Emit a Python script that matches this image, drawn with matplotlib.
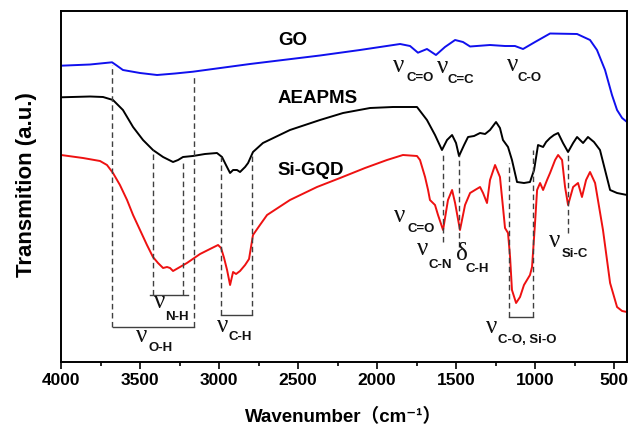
import matplotlib
matplotlib.use("Agg")
import matplotlib.pyplot as plt

# ---------------- data (transmission in arbitrary units, offset curves) ----------------
go_wn = [4000, 3816, 3677, 3652, 3608, 3500, 3392, 3278, 3165, 2804, 2361, 2108, 1854, 1791,
         1741, 1684, 1627, 1570, 1506, 1456, 1411, 1285, 1190, 1127, 1076, 1000, 905, 734,
         652, 608, 557, 513, 481, 449, 418]
go_t = [296.3, 297.5, 299.7, 297, 292, 289, 287, 288.5, 290.3, 298, 306.5, 312, 318, 316,
        309.3, 313, 307, 315, 322, 320, 315.5, 317, 316, 316, 313, 320, 328.5, 328,
        322, 312, 292, 267, 252, 244, 240]

aea_wn = [4000, 3816, 3734, 3671, 3608, 3544, 3481, 3418, 3354, 3291, 3259, 3228, 3165, 3089,
          3013, 2981, 2956, 2930, 2911, 2886, 2867, 2835, 2816, 2785, 2722, 2551, 2361, 2215,
          2044, 1899, 1747, 1684, 1633, 1589, 1557, 1525, 1500, 1481, 1449, 1424, 1386, 1348,
          1316, 1285, 1247, 1222, 1203, 1171, 1146, 1114, 1070, 1032, 1006, 981, 949, 930,
          905, 880, 854, 823, 791, 759, 734, 696, 665, 627, 589, 557, 525, 481, 418]
aea_t = [264.7, 265.5, 265, 262, 252, 235, 222, 212, 205, 200, 202, 205, 206, 208,
         209, 205, 197, 189, 192, 192, 190, 195, 199, 210, 219, 232, 242, 249,
         254, 255, 255, 242, 227, 212, 222, 227, 219, 206, 217, 225, 226, 229,
         228, 232, 240, 234, 222, 215, 202, 180, 179, 180, 192, 217, 215, 220,
         224, 227, 229, 219, 210, 219, 225, 219, 225, 220, 212, 192, 172, 169, 167]

sig_wn = [4000, 3861, 3753, 3709, 3671, 3627, 3582, 3544, 3500, 3456, 3418, 3386, 3354, 3329,
          3310, 3291, 3247, 3203, 3120, 3057, 3006, 2987, 2968, 2949, 2930, 2911, 2892, 2867,
          2835, 2810, 2785, 2741, 2696, 2551, 2380, 2234, 2076, 1937, 1836, 1747, 1728, 1696,
          1677, 1665, 1633, 1614, 1582, 1551, 1525, 1506, 1475, 1443, 1411, 1380, 1348, 1329,
          1304, 1285, 1253, 1222, 1203, 1190, 1171, 1158, 1146, 1120, 1095, 1070, 1032, 1019,
          1000, 987, 968, 949, 924, 905, 873, 854, 829, 810, 791, 759, 728, 703, 677, 652,
          620, 570, 525, 481, 449, 418]
sig_t = [207, 204, 201, 197, 189, 177, 162, 147, 132, 117, 105, 99, 94, 95,
         94, 91, 95, 99, 108, 113, 117, 114, 104, 92, 77, 90, 88, 91,
         97, 103, 127, 137, 147, 162, 175, 184, 194, 202, 207, 206, 202, 185,
         172, 162, 157, 147, 132, 162, 172, 159, 132, 157, 169, 172, 175, 169,
         159, 182, 197, 185, 155, 134, 129, 105, 72, 59, 65, 77, 87, 95,
         139, 172, 179, 172, 182, 189, 202, 207, 202, 175, 157, 175, 179, 165, 182, 190,
         179, 132, 79, 55, 51, 50]

names = ["GO", "AEAPMS", "Si-GQD"]
colors = ["#1010ee", "#000000", "#ee1111"]

# dashed guide lines: wavenumber, lower end, upper end
guide_wn = [3677, 3418, 3228, 3158, 2987, 2791, 1582, 1481, 1165, 1013, 791]
guide_lo = [35, 67, 67, 35, 47, 47, 120, 115, 45, 45, 129]
guide_hi = [297, 212, 202, 287, 205, 209, 210, 207, 199, 212, 210]

# brackets: wn start, wn end, level
br_wn0 = [3671, 3437, 2987, 1165]
br_wn1 = [3158, 3196, 2791, 1013]
br_lvl = [35, 67, 47, 45]

# band labels: greek, subscript, greek x, greek baseline, sub x, sub baseline
band_g = ["ν", "ν", "ν", "ν", "ν", "ν", "ν", "ν", "δ", "ν", "ν"]
band_s = ["C=O", "C=C", "C-O", "N-H", "O-H", "C-H", "C=O", "C-N", "C-H", "Si-C", "C-O, Si-O"]
band_gx = [1898, 1620, 1177, 3411, 3525, 3012, 1892, 1747, 1500, 911, 1310]
band_gy = [290, 289, 291, 54, 20, 30, 140, 107, 102, 115, 29]
band_sx = [1816, 1551, 1108, 3342, 3449, 2937, 1810, 1677, 1443, 829, 1234]
band_sy = [281, 279, 281, 42, 11, 22, 130, 94, 90, 105, 19]

# curve name labels
name_x = [2627, 2627, 2627]
name_y = [317, 259, 187]

xticks = [4000, 3500, 3000, 2500, 2000, 1500, 1000, 500]

# ---------------- plotting ----------------
plt.rcParams['font.family'] = ['Liberation Sans', 'DejaVu Sans']
plt.rcParams['font.weight'] = 'bold'

fig = plt.figure(figsize=(6.29, 4.30), dpi=100)
ax = fig.add_axes([61 / 629, 1 - 362 / 430, (627 - 61) / 629, 351 / 430])

for wn, t, c in zip([go_wn, aea_wn, sig_wn], [go_t, aea_t, sig_t], colors):
    ax.plot(wn, t, color=c, lw=1.4, solid_joinstyle='round')

for w, lo, hi in zip(guide_wn, guide_lo, guide_hi):
    ax.plot([w, w], [lo, hi], color='#404040', lw=1.0, ls=(0, (4, 2.5)))

for a, b, l in zip(br_wn0, br_wn1, br_lvl):
    ax.plot([a, b], [l, l], color='#404040', lw=1.0)

for g, s, gx, gy, sx, sy in zip(band_g, band_s, band_gx, band_gy, band_sx, band_sy):
    ax.text(gx, gy, g, family=['Liberation Serif', 'DejaVu Serif'], fontweight='normal',
            fontsize=18, ha='left', va='baseline', color='#111111')
    ax.text(sx, sy, s, fontsize=9.5, fontweight='bold', ha='left', va='baseline', color='#111111')

for n, x, y in zip(names, name_x, name_y):
    ax.text(x, y, n, fontsize=13.5, fontweight='bold', ha='left', va='baseline')

ax.set_xlim(4000, 418)
ax.set_ylim(0, 351)
ax.set_xticks(xticks)
ax.set_xticks([3750, 3250, 2750, 2250, 1750, 1250, 750], minor=True)
ax.set_yticks([])
ax.tick_params(axis='x', which='major', direction='out', length=5, width=1.2,
               labelsize=12.5, pad=3)
ax.tick_params(axis='x', which='minor', direction='out', length=3, width=1.2)
for lab in ax.get_xticklabels():
    lab.set_fontweight('bold')
for sp in ax.spines.values():
    sp.set_linewidth(1.4)

fig.text(344 / 629, 1 - 422 / 430, "Wavenumber（cm⁻¹）", ha='center', va='baseline',
         fontsize=13.5, fontweight='bold',
         family=['Liberation Sans', 'Noto Sans CJK SC', 'DejaVu Sans'])
fig.text(32 / 629, 1 - 185 / 430, "Transmition (a.u.)", rotation=90, rotation_mode='anchor',
         ha='center', va='baseline', fontsize=16, fontweight='bold')

fig.savefig("out.png", dpi=100)
